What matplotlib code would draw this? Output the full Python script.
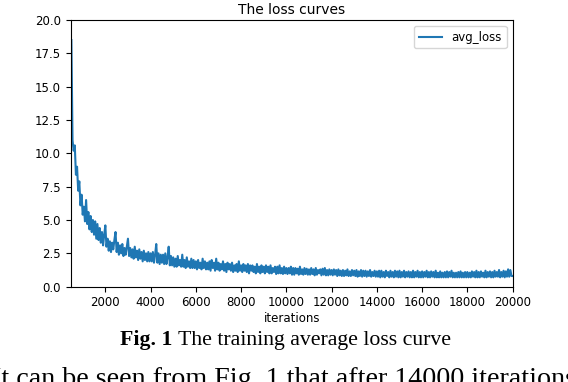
import numpy as np
import matplotlib
matplotlib.use("Agg")
import matplotlib.pyplot as plt

iterations = np.arange(500, 20001, 50)
avg_loss = [
    18.5, 11.0, 10.2, 10.6, 8.4, 9.0, 7.2, 7.9, 6.1, 6.9,
    5.4, 6.0, 4.9, 6.5, 4.7, 5.6, 4.3, 5.3, 4.1, 5.0,
    3.9, 4.9, 3.6, 4.7, 3.5, 4.4, 3.3, 4.1, 3.1, 3.9,
    4.6, 3.0, 3.6, 2.7, 3.4, 2.6, 3.3, 2.8, 3.5, 4.1,
    2.6, 3.3, 2.4, 3.1, 2.5, 3.2, 2.3, 2.9, 2.4, 3.0,
    3.6, 2.3, 2.9, 2.2, 2.8, 2.1, 3.0, 2.2, 2.7, 2.0,
    2.8, 2.1, 2.6, 1.9, 2.7, 2.0, 2.5, 1.9, 2.6, 1.9,
    2.5, 1.9, 2.6, 1.8, 2.4, 3.2, 1.8, 2.5, 1.7, 2.4,
    1.8, 2.4, 1.7, 2.5, 1.7, 2.2, 3.0, 1.6, 2.3, 1.6,
    2.2, 1.5, 2.1, 1.5, 2.3, 1.6, 2.0, 1.5, 2.4, 1.5,
    2.0, 1.4, 2.2, 1.5, 1.9, 1.4, 2.1, 1.4, 2.0, 1.4,
    1.9, 1.3, 2.0, 1.4, 1.8, 1.3, 2.1, 1.4, 1.9, 1.3,
    1.8, 1.3, 1.9, 1.2, 2.0, 1.4, 1.8, 1.2, 2.1, 1.3,
    1.8, 1.2, 1.7, 1.3, 1.9, 1.2, 1.7, 1.1, 1.8, 1.3,
    1.7, 1.2, 1.8, 1.1, 1.6, 1.2, 1.7, 1.1, 1.9, 1.2,
    1.6, 1.1, 1.7, 1.2, 1.6, 1.1, 1.7, 1.0, 1.6, 1.2,
    1.6, 1.1, 1.5, 1.0, 1.7, 1.1, 1.5, 1.0, 1.6, 1.1,
    1.5, 1.0, 1.6, 1.1, 1.5, 1.0, 1.6, 1.0, 1.4, 1.1,
    1.5, 0.95, 1.5, 1.0, 1.6, 1.0, 1.4, 0.95, 1.5, 1.0,
    1.4, 0.95, 1.4, 1.0, 1.5, 0.9, 1.4, 0.9, 1.4, 1.0,
    1.35, 0.9, 1.5, 0.95, 1.3, 0.9, 1.4, 0.95, 1.35, 0.9,
    1.3, 0.9, 1.4, 0.95, 1.3, 0.85, 1.4, 0.9, 1.25, 1.0,
    1.3, 0.85, 1.35, 0.9, 1.4, 0.85, 1.25, 0.85, 1.3, 0.9,
    1.25, 0.85, 1.3, 0.9, 1.25, 0.8, 1.3, 0.85, 1.2, 0.8,
    1.25, 0.8, 1.2, 0.85, 1.3, 0.8, 1.15, 0.8, 1.25, 0.85,
    1.2, 0.8, 1.25, 0.75, 1.15, 0.8, 1.25, 0.75, 1.2, 0.8,
    1.2, 0.75, 1.15, 0.8, 1.25, 0.75, 1.1, 0.8, 1.2, 0.75,
    1.15, 0.75, 1.2, 0.7, 1.2, 0.75, 1.1, 0.7, 1.2, 0.8,
    1.1, 0.7, 1.2, 0.75, 1.1, 0.7, 1.2, 0.75, 1.15, 0.7,
    1.2, 0.7, 1.1, 0.75, 1.2, 0.7, 1.1, 0.75, 1.15, 0.7,
    1.1, 0.7, 1.2, 0.7, 1.1, 0.75, 1.2, 0.7, 1.1, 0.7,
    1.15, 0.7, 1.1, 0.75, 1.2, 0.7, 1.1, 0.7, 1.15, 0.75,
    1.1, 0.7, 1.2, 0.7, 1.05, 0.7, 1.15, 0.7, 1.05, 0.7,
    1.1, 0.7, 1.15, 0.7, 1.1, 0.75, 1.2, 0.7, 1.05, 0.7,
    1.05, 0.7, 1.1, 0.7, 1.15, 0.7, 1.05, 0.7, 1.1, 0.7,
    1.1, 0.7, 1.05, 0.7, 1.15, 0.75, 1.1, 0.7, 1.2, 0.7,
    1.1, 0.7, 1.15, 0.75, 1.05, 0.7, 1.2, 0.7, 1.1, 0.75,
    1.15, 0.7, 1.1, 0.7, 1.2, 0.75, 1.1, 0.75, 1.25, 0.7,
    1.1, 0.75, 1.2, 0.7, 1.15, 0.75, 1.3, 0.75, 1.25, 0.8,
    0.8,
]

fig = plt.figure(figsize=(5.68, 3.82), dpi=100)
ax = fig.add_axes([0.1245, 0.2495, 0.778, 0.698])

ax.plot(iterations, avg_loss, color="#1f77b4", linewidth=1.5, label="avg_loss")
ax.set_xlim(470, 20000)
ax.set_ylim(0, 20)
ax.set_xticks([2000, 4000, 6000, 8000, 10000, 12000, 14000, 16000, 18000, 20000])
ax.set_yticks([0, 2.5, 5, 7.5, 10, 12.5, 15, 17.5, 20])
ax.set_yticklabels(["0.0", "2.5", "5.0", "7.5", "10.0", "12.5", "15.0", "17.5", "20.0"])
ax.tick_params(labelsize=8.5, length=3.5)
ax.set_xlabel("iterations", fontsize=8.5, labelpad=2)
ax.set_title("The loss curves", fontsize=10, pad=4)
ax.legend(loc="upper right", fontsize=8.5)

# caption and body text of the page
fig.text(120 / 568, 37 / 382, "Fig. 1", fontsize=15.7, fontweight="bold",
         family="Liberation Serif", ha="left", va="baseline")
fig.text(178 / 568, 37 / 382, "The training average loss curve", fontsize=15.7,
         family="Liberation Serif", ha="left", va="baseline")
fig.text(-8 / 568, -4 / 382, "It can be seen from Fig. 1 that after 14000 iterations,",
         fontsize=20.2, family="Liberation Serif", ha="left", va="baseline")

fig.savefig("out.png", dpi=100)
